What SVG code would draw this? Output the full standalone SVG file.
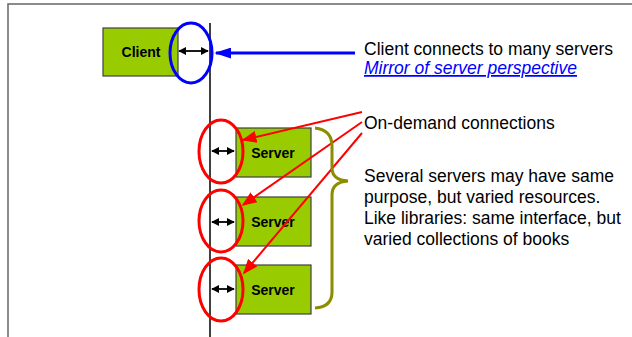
<svg xmlns="http://www.w3.org/2000/svg" width="632" height="337" viewBox="0 0 632 337">
<style>
.box{fill:#99cc00;stroke:#404040;stroke-width:1.2}
.lbl{font-family:"Liberation Sans",Arial,sans-serif;font-weight:bold;font-size:14px;fill:#000;text-anchor:middle}
.txt{font-family:"Liberation Sans",Arial,sans-serif;font-size:17.5px;fill:#000}
.link{font-family:"Liberation Sans",Arial,sans-serif;font-size:17.5px;fill:#0000ff;font-style:italic;text-decoration:underline}
.dbl{stroke:#000;stroke-width:1.8;marker-start:url(#bh);marker-end:url(#bh)}
.red{fill:none;stroke:#ff0000;stroke-width:3}
.redarrow{stroke:#ff0000;stroke-width:2;fill:none;marker-end:url(#rh)}
</style>
<defs>
<marker id="bh" viewBox="0 0 10 10" refX="9" refY="5" markerWidth="8" markerHeight="8" markerUnits="userSpaceOnUse" orient="auto-start-reverse"><path d="M0,0 L10,5 L0,10 Z" fill="#000"/></marker>
<marker id="rh" viewBox="0 0 10 10" refX="9" refY="5" markerWidth="15" markerHeight="12" markerUnits="userSpaceOnUse" orient="auto" preserveAspectRatio="none"><path d="M0,0 L10,5 L0,10 Z" fill="#ff0000"/></marker>
<marker id="bl" viewBox="0 0 10 10" refX="9" refY="5" markerWidth="17" markerHeight="11" markerUnits="userSpaceOnUse" orient="auto" preserveAspectRatio="none"><path d="M0,0 L10,5 L0,10 Z" fill="#0000ff"/></marker>
</defs>
<rect x="8" y="4" width="700" height="400" fill="#fff" stroke="#666" stroke-width="1.5"/>
<line x1="210" y1="23" x2="210" y2="337" stroke="#000" stroke-width="1.5"/>
<g id="client">
<rect class="box" x="103" y="28" width="75" height="48"/>
<text class="lbl" x="141" y="57">Client</text>
</g>
<g id="server1">
<rect class="box" x="236" y="128" width="75" height="49"/>
<text class="lbl" x="273" y="158">Server</text>
</g>
<g id="server2">
<rect class="box" x="236" y="197" width="75" height="49"/>
<text class="lbl" x="273" y="227">Server</text>
</g>
<g id="server3">
<rect class="box" x="236" y="265" width="75" height="49"/>
<text class="lbl" x="273" y="295">Server</text>
</g>
<g id="connectors">
<line class="dbl" x1="179" y1="51" x2="208" y2="51"/>
<line class="dbl" x1="212" y1="151" x2="234" y2="151"/>
<line class="dbl" x1="212" y1="222" x2="234" y2="222"/>
<line class="dbl" x1="212" y1="289" x2="234" y2="289"/>
<ellipse cx="191" cy="53" rx="21" ry="30" fill="none" stroke="#0000ff" stroke-width="3"/>
<ellipse class="red" cx="221" cy="151.5" rx="22" ry="31.5"/>
<ellipse class="red" cx="221" cy="221" rx="22" ry="31"/>
<ellipse class="red" cx="221" cy="289.5" rx="22" ry="31.5"/>
<line x1="355" y1="53" x2="216" y2="53" stroke="#0000ff" stroke-width="3" marker-end="url(#bl)"/>
<line class="redarrow" x1="362" y1="112" x2="243" y2="140"/>
<line class="redarrow" x1="362" y1="122" x2="243" y2="205"/>
<line class="redarrow" x1="362" y1="133" x2="244" y2="273"/>
<path d="M315,128 Q332,130 332,146 L332,168 Q332,180 348,181 Q332,182 332,195 L332,292 Q332,307 315,308" fill="none" stroke="#8c8c00" stroke-width="3"/>
</g>
<g id="notes">
<text class="txt" x="364" y="55">Client connects to many servers</text>
<text class="link" x="364" y="74">Mirror of server perspective</text>
<text class="txt" x="364" y="129">On-demand connections</text>
<text class="txt" x="364" y="182">Several servers may have same</text>
<text class="txt" x="364" y="203">purpose, but varied resources.</text>
<text class="txt" x="364" y="224">Like libraries: same interface, but</text>
<text class="txt" x="364" y="244.5">varied collections of books</text>
</g>
</svg>
